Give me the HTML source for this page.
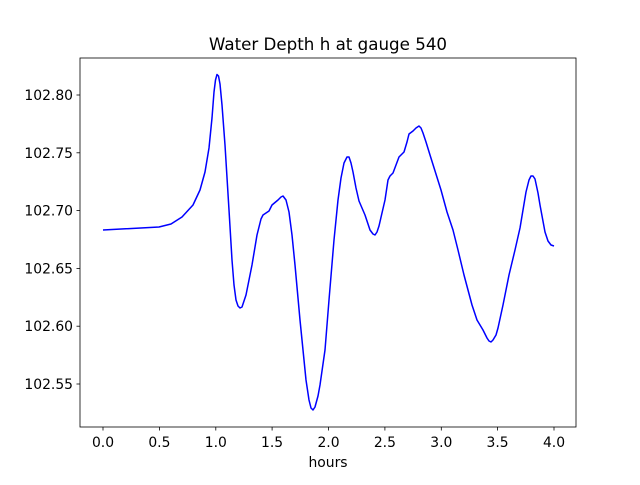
<!DOCTYPE html>
<html><head><meta charset="utf-8"><style>
html,body{margin:0;padding:0;background:#fff;}
svg text{font-family:"DejaVu Sans","Liberation Sans",sans-serif;font-size:13.9px;fill:#000;}
</style></head><body>
<svg width="640" height="480" viewBox="0 0 640 480" xmlns="http://www.w3.org/2000/svg">
<rect width="640" height="480" fill="#fff"/>
<text x="328" y="50" text-anchor="middle" style="font-size:16.7px">Water Depth h at gauge 540</text>
<polyline fill="none" stroke="#0000ff" stroke-width="1.5" stroke-linejoin="round" points="103,230 159,227 171,224 182,217 193,205 200,190 205,172 209,148 212,118 214,92 215.5,80 217,74.5 218.5,76 220,84 222,105 225,145 229,210 232,260 234,285 236,300 238,306 240,308 242,307 246,295 252,265 257,235 261,219 263,215 266,213 269,211 272,205 278,200 281,197 283,196 286,200 289,212 292,235 295,265 300,320 306,380 309,400 311,408 313,410 315,407 318,396 320,385 325,350 329,300 334,240 338,200 341,178 344,163 347,157 349,157 351,163 353,172 356,188 359,201 365,215 370,230 373,234 375,235 377,232 379,226 385,200 388,180 390,176 393,173 396,165 399,157 404,152 407,142 409,134 413,131 416,128 419,126 421,128 423,133 426,142 430,155 441,190 447,212 453,230 458,250 464,275 472,305 477,320 483,330 487,338 489,341 491,342 493,340 496,335 498,328 503,305 509,275 515,250 520,228 523,210 526,192 529,180 531,176 533,176 535,179 538,193 540,205 545,232 548,241 551,245 554,246"/>
<rect x="80" y="58" width="496" height="369" fill="none" stroke="#000" stroke-width="0.8"/>
<g stroke="#000" stroke-width="0.8">
<line x1="103" y1="427" x2="103" y2="430.5"/><line x1="159.4" y1="427" x2="159.4" y2="430.5"/>
<line x1="215.8" y1="427" x2="215.8" y2="430.5"/><line x1="272.1" y1="427" x2="272.1" y2="430.5"/>
<line x1="328.5" y1="427" x2="328.5" y2="430.5"/><line x1="384.9" y1="427" x2="384.9" y2="430.5"/>
<line x1="441.3" y1="427" x2="441.3" y2="430.5"/><line x1="497.6" y1="427" x2="497.6" y2="430.5"/>
<line x1="554" y1="427" x2="554" y2="430.5"/>
<line x1="76.5" y1="95" x2="80" y2="95"/><line x1="76.5" y1="152.8" x2="80" y2="152.8"/>
<line x1="76.5" y1="210.6" x2="80" y2="210.6"/><line x1="76.5" y1="268.4" x2="80" y2="268.4"/>
<line x1="76.5" y1="326.2" x2="80" y2="326.2"/><line x1="76.5" y1="384" x2="80" y2="384"/>
</g>
<g text-anchor="middle">
<text x="103" y="447">0.0</text><text x="159.4" y="447">0.5</text><text x="215.8" y="447">1.0</text>
<text x="272.1" y="447">1.5</text><text x="328.5" y="447">2.0</text><text x="384.9" y="447">2.5</text>
<text x="441.3" y="447">3.0</text><text x="497.6" y="447">3.5</text><text x="554" y="447">4.0</text>
<text x="328" y="467">hours</text>
</g>
<g text-anchor="end">
<text x="73" y="100">102.80</text><text x="73" y="157.8">102.75</text><text x="73" y="215.6">102.70</text>
<text x="73" y="273.4">102.65</text><text x="73" y="331.2">102.60</text><text x="73" y="389">102.55</text>
</g>
</svg>
</body></html>
